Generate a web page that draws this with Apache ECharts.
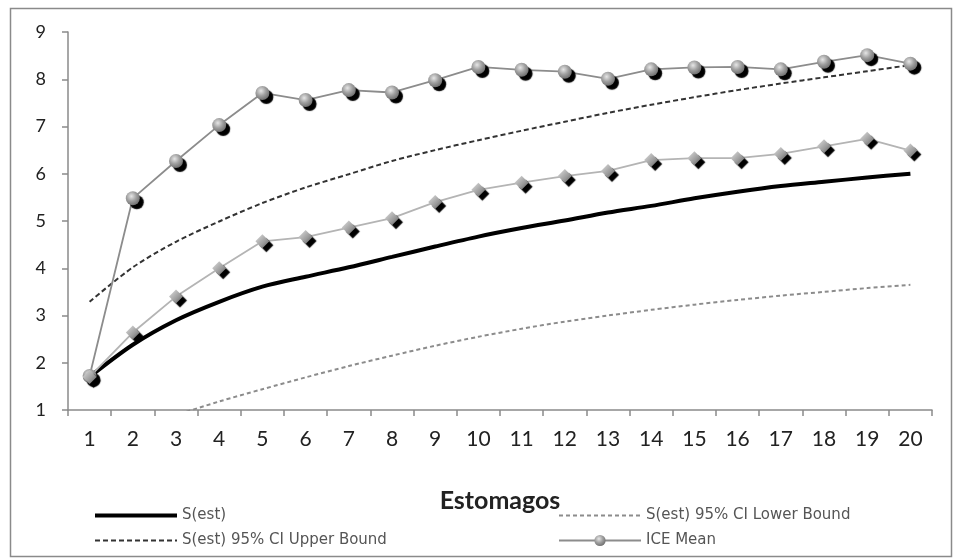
<!DOCTYPE html>
<html>
<head>
<meta charset="utf-8">
<script src="https://cdn.jsdelivr.net/npm/echarts@6/dist/echarts.min.js"></script>
<style>
html,body{margin:0;padding:0;background:#fff;}
#c{width:956px;height:560px;}
</style>
</head>
<body>
<div id="c"></div>
<script>
var categories = ['1','2','3','4','5','6','7','8','9','10','11','12','13','14','15','16','17','18','19','20'];
var yTicks = [1,2,3,4,5,6,7,8,9];
var sEst = [1.70, 2.38, 2.90, 3.29, 3.61, 3.82, 4.02, 4.24, 4.46, 4.67, 4.85, 5.01, 5.18, 5.32, 5.48, 5.62, 5.74, 5.83, 5.92, 6.00];
var upperBound = [3.29, 4.02, 4.56, 4.99, 5.38, 5.71, 5.99, 6.27, 6.50, 6.71, 6.91, 7.10, 7.29, 7.46, 7.62, 7.77, 7.91, 8.04, 8.17, 8.30];
var lowerBound = [-0.2, 0.45, 0.88, 1.18, 1.44, 1.69, 1.93, 2.15, 2.36, 2.55, 2.72, 2.87, 3.00, 3.12, 3.23, 3.33, 3.42, 3.50, 3.58, 3.65];
var iceMean = [1.72, 5.48, 6.27, 7.03, 7.71, 7.56, 7.77, 7.72, 7.98, 8.26, 8.20, 8.16, 8.01, 8.21, 8.25, 8.26, 8.21, 8.37, 8.51, 8.33];
var diamondSeries = [1.70, 2.64, 3.40, 4.00, 4.57, 4.66, 4.86, 5.06, 5.40, 5.66, 5.81, 5.95, 6.06, 6.29, 6.33, 6.33, 6.42, 6.58, 6.74, 6.49];

var FONT = 'Lato, "Open Sans", sans-serif';
var LEGEND_FONT = '"DejaVu Sans", sans-serif';
var sphere = new echarts.graphic.RadialGradient(0.4, 0.35, 0.7, [
  {offset: 0, color: '#e6e6e6'},
  {offset: 0.5, color: '#a0a0a0'},
  {offset: 1, color: '#6a6a6a'}
]);
var diamondFill = new echarts.graphic.LinearGradient(0, 0, 1, 1, [
  {offset: 0, color: '#e0e0e0'},
  {offset: 0.6, color: '#9a9a9a'},
  {offset: 1, color: '#555'}
]);
var noSym = {opacity: 0};

var chart = echarts.init(document.getElementById('c'), null, {renderer: 'canvas'});
chart.setOption({
  animation: false,
  backgroundColor: '#fff',
  graphic: [{
    type: 'rect', left: 8, top: 6, z: -1,
    shape: {width: 941, height: 548},
    style: {fill: 'none', stroke: '#8a8a8a', lineWidth: 1.5}
  }],
  grid: {left: 68, right: 24, top: 32, bottom: 150},
  legend: [{
    data: [
      {name: 'S(est)', itemStyle: noSym, lineStyle: {width: 4, color: '#000'}},
      {name: 'S(est) 95% CI Upper Bound', itemStyle: noSym}
    ],
    orient: 'vertical', left: 88, top: 503,
    itemWidth: 82, itemHeight: 14, itemGap: 10,
    textStyle: {fontFamily: LEGEND_FONT, fontSize: 15, color: '#555'}
  }, {
    data: [{name: 'S(est) 95% CI Lower Bound', itemStyle: noSym}, 'ICE Mean'],
    orient: 'vertical', left: 553, top: 503,
    itemWidth: 82, itemHeight: 14, itemGap: 10,
    textStyle: {fontFamily: LEGEND_FONT, fontSize: 15, color: '#555'}
  }],
  xAxis: {
    type: 'category',
    data: categories,
    boundaryGap: true,
    name: 'Estomagos',
    nameLocation: 'middle',
    nameGap: 78,
    nameTextStyle: {fontFamily: FONT, fontSize: 25, fontWeight: 'bold', color: '#222'},
    axisLine: {lineStyle: {color: '#8a8a8a', width: 1.5}},
    axisTick: {show: true, length: 6, lineStyle: {color: '#8a8a8a', width: 1.5}},
    axisLabel: {fontFamily: FONT, fontSize: 21, color: '#222', margin: 19, interval: 0},
    splitLine: {show: false}
  },
  yAxis: {
    type: 'value',
    min: 1, max: 9, interval: 1,
    axisLine: {show: true, lineStyle: {color: '#8a8a8a', width: 1.5}},
    axisTick: {show: true, length: 6, lineStyle: {color: '#8a8a8a', width: 1.5}},
    axisLabel: {fontFamily: FONT, fontSize: 18, color: '#222', margin: 22,
      formatter: function (v) { return yTicks.indexOf(v) >= 0 ? String(v) : ''; }},
    splitLine: {show: false}
  },
  series: [{
    name: 'S(est)', type: 'line', data: sEst, smooth: 0.3,
    symbol: 'none', clip: true,
    lineStyle: {color: '#000', width: 4},
    itemStyle: {color: '#000'}, z: 4
  }, {
    name: 'S(est) 95% CI Upper Bound', type: 'line', data: upperBound, smooth: 0.3,
    symbol: 'none', clip: true,
    lineStyle: {color: '#333', width: 2, type: [5, 3]},
    itemStyle: {color: '#333'}, z: 3
  }, {
    name: 'S(est) 95% CI Lower Bound', type: 'line', data: lowerBound, smooth: 0.3,
    symbol: 'none', clip: true,
    lineStyle: {color: '#8c8c8c', width: 2, type: [4, 3]},
    itemStyle: {color: '#8c8c8c'}, z: 3
  }, {
    name: 'ICE Mean', type: 'line', data: iceMean,
    symbol: 'circle', symbolSize: 14, clip: true,
    lineStyle: {color: '#8c8c8c', width: 1.8},
    itemStyle: {color: sphere, shadowColor: '#000', shadowOffsetX: 4, shadowOffsetY: 4, shadowBlur: 1},
    z: 5
  }, {
    name: 'Serie 5', type: 'line', data: diamondSeries,
    symbol: 'diamond', symbolSize: [14, 14], clip: true,
    lineStyle: {color: '#b4b4b4', width: 1.8},
    itemStyle: {color: diamondFill, shadowColor: '#000', shadowOffsetX: 4, shadowOffsetY: 4, shadowBlur: 1},
    z: 5
  }]
});
</script>
</body>
</html>
